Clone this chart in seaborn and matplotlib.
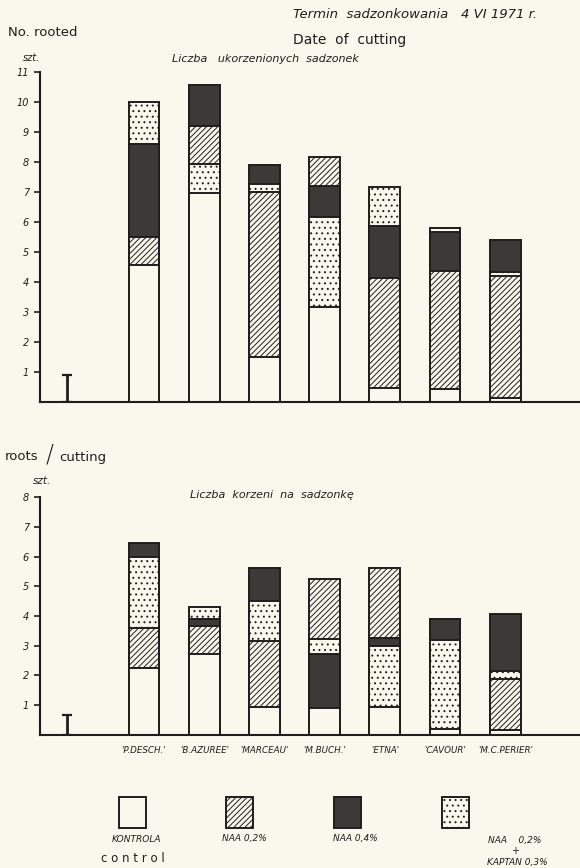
import matplotlib
matplotlib.use("Agg")
import matplotlib.pyplot as plt
import matplotlib.patches as mpatches
import seaborn as sns

# Cultivars (x axis)
cultivars = ["'P.DESCH.'", "'B.AZUREE'", "'MARCEAU'", "'M.BUCH.'",
             "'ETNA'", "'CAVOUR'", "'M.C.PERIER'"]

# Number of rooted cuttings, per treatment
rooted_control = [4.55, 6.95, 1.50, 3.18, 0.45, 0.42, 0.12]
rooted_naa02 = [0.95, 1.28, 5.50, 0.95, 3.67, 3.96, 4.08]
rooted_naa04 = [3.10, 1.35, 0.63, 1.02, 1.76, 1.28, 1.07]
rooted_naa_kaptan = [1.40, 0.97, 0.27, 3.00, 1.29, 0.15, 0.13]
# stacking order of the segments (bottom -> top) for each cultivar
# C = control, H = NAA 0.2%, D = NAA 0.4%, K = NAA 0.2% + Kaptan 0.3%
rooted_order = ["CHDK", "CKHD", "CHKD", "CKDH", "CHDK", "CHDK", "CHKD"]
rooted_lsd = 0.9

# Number of roots per cutting, per treatment
roots_control = [2.25, 2.70, 0.94, 0.88, 0.93, 0.17, 0.15]
roots_naa02 = [1.35, 0.96, 2.21, 2.05, 2.33, 0.00, 1.71]
roots_naa04 = [0.45, 0.23, 1.13, 1.85, 0.28, 0.71, 1.94]
roots_naa_kaptan = [2.40, 0.41, 1.35, 0.48, 2.06, 3.01, 0.28]
roots_order = ["CHKD", "CHDK", "CHKD", "CDKH", "CKDH", "CKDH", "CHKD"]
roots_lsd = 0.65

rooted_ticks = list(range(1, 12))
roots_ticks = list(range(1, 9))

BG = "#faf8ec"
INK = "#1e1e1e"
DARK = "#3b3a37"

styles = {
    "C": dict(facecolor=BG, hatch=None),
    "H": dict(facecolor=BG, hatch="//////"),
    "D": dict(facecolor=DARK, hatch=None),
    "K": dict(facecolor=BG, hatch="..."),
}

sns.set_style("ticks")
plt.rcParams["font.family"] = ["DejaVu Sans"]
plt.rcParams["hatch.linewidth"] = 0.7
plt.rcParams["hatch.color"] = INK

fig = plt.figure(figsize=(5.8, 8.68), dpi=100)
fig.patch.set_facecolor(BG)

W, H = 580.0, 868.0


def fx(px):
    return px / W


def fy(py):
    return 1 - py / H


def draw_stacks(ax, values, orders, lsd, ymax, ticks):
    n = len(cultivars)
    # tallest cumulative level first, lower levels painted over it
    for level in range(3, -1, -1):
        tops, codes = [], []
        for i in range(n):
            order = orders[i]
            tops.append(sum(values[c][i] for c in order[:level + 1]))
            codes.append(order[level])
        sns.barplot(x=cultivars, y=tops, ax=ax, width=0.51, color=BG,
                    edgecolor=INK, linewidth=1.4, errorbar=None,
                    saturation=1)
        for patch, code in zip(ax.patches[-n:], codes):
            patch.set_facecolor(styles[code]["facecolor"])
            patch.set_hatch(styles[code]["hatch"])
            patch.set_edgecolor(INK)
    # least significant difference bar
    ax.errorbar(-1.28, lsd / 2, yerr=lsd / 2, color=INK, lw=2.0,
                capsize=3.5, capthick=1.6)
    ax.set_xlim(-1.727, 7.243)
    ax.set_ylim(0, ymax)
    ax.set_yticks(ticks)
    ax.set_yticklabels([str(t) for t in ticks], fontsize=7,
                       style="italic", color=INK)
    ax.tick_params(axis="y", length=4, width=1.2, pad=4, colors=INK)
    ax.set_facecolor("none")
    sns.despine(ax=ax, top=True, right=True)
    for s in ("left", "bottom"):
        ax.spines[s].set_linewidth(1.5)
        ax.spines[s].set_color(INK)
    ax.set_xlabel("")
    ax.set_ylabel("")


# upper panel: number of rooted cuttings
ax1 = fig.add_axes([fx(40), fy(402), fx(540), 330 / H])
draw_stacks(ax1,
            {"C": rooted_control, "H": rooted_naa02,
             "D": rooted_naa04, "K": rooted_naa_kaptan},
            rooted_order, rooted_lsd, 11, rooted_ticks)
ax1.set_xticks([])

# lower panel: number of roots per cutting
ax2 = fig.add_axes([fx(40), fy(734.5), fx(540), 237.2 / H])
draw_stacks(ax2,
            {"C": roots_control, "H": roots_naa02,
             "D": roots_naa04, "K": roots_naa_kaptan},
            roots_order, roots_lsd, 8, roots_ticks)
ax2.set_xticks(range(len(cultivars)))
ax2.set_xticklabels(cultivars, fontsize=6.3, style="italic", color=INK)
ax2.tick_params(axis="x", length=0, pad=8)

# titles and axis captions
txt = dict(color=INK, style="italic")
fig.text(fx(293), fy(15), "Termin  sadzonkowania   4 VI 1971 r.",
         fontsize=9.5, va="center", ha="left", **txt)
fig.text(fx(293), fy(40), "Date  of  cutting",
         fontsize=10, va="center", ha="left", color=INK)
fig.text(fx(8), fy(33), "No. rooted", fontsize=9.5, va="center",
         ha="left", color=INK)
fig.text(fx(23), fy(58), "szt.", fontsize=7, va="center", ha="left", **txt)
fig.text(fx(172), fy(59), "Liczba   ukorzenionych  sadzonek",
         fontsize=8, va="center", ha="left", **txt)

fig.text(fx(5), fy(457), "roots", fontsize=9.5, va="center", ha="left",
         color=INK)
fig.text(fx(50), fy(455), "/", fontsize=17, va="center", ha="center",
         color=INK, fontweight="light")
fig.text(fx(59), fy(457), "cutting", fontsize=9.5, va="center",
         ha="left", color=INK)
fig.text(fx(33), fy(481), "szt.", fontsize=7.5, va="center", ha="left",
         **txt)
fig.text(fx(190), fy(495), "Liczba  korzeni  na  sadzonkę", fontsize=8,
         va="center", ha="left", **txt)

# legend
legend_codes = ["C", "H", "D", "K"]
legend_x = [119, 226, 334, 442]
for code, x0 in zip(legend_codes, legend_x):
    st = styles[code]
    fig.patches.append(mpatches.Rectangle(
        (fx(x0), fy(828)), fx(27), 31 / H, transform=fig.transFigure,
        facecolor=st["facecolor"], hatch=st["hatch"], edgecolor=INK,
        linewidth=1.4, figure=fig))

fig.text(fx(136), fy(839), "KONTROLA", fontsize=6.5, ha="center",
         va="center", **txt)
fig.text(fx(133), fy(859), "c o n t r o l", fontsize=8.5, ha="center",
         va="center", color=INK)
fig.text(fx(244), fy(839), "NAA 0,2%", fontsize=6.5, ha="center",
         va="center", **txt)
fig.text(fx(355), fy(839), "NAA 0,4%", fontsize=6.5, ha="center",
         va="center", **txt)
fig.text(fx(488), fy(840), "NAA    0,2%", fontsize=6.5, ha="left",
         va="center", **txt)
fig.text(fx(515), fy(851), "+", fontsize=7, ha="center", va="center",
         color=INK)
fig.text(fx(487), fy(862), "KAPTAN 0,3%", fontsize=6.5, ha="left",
         va="center", **txt)

fig.savefig("out.png", dpi=100, facecolor=BG)
